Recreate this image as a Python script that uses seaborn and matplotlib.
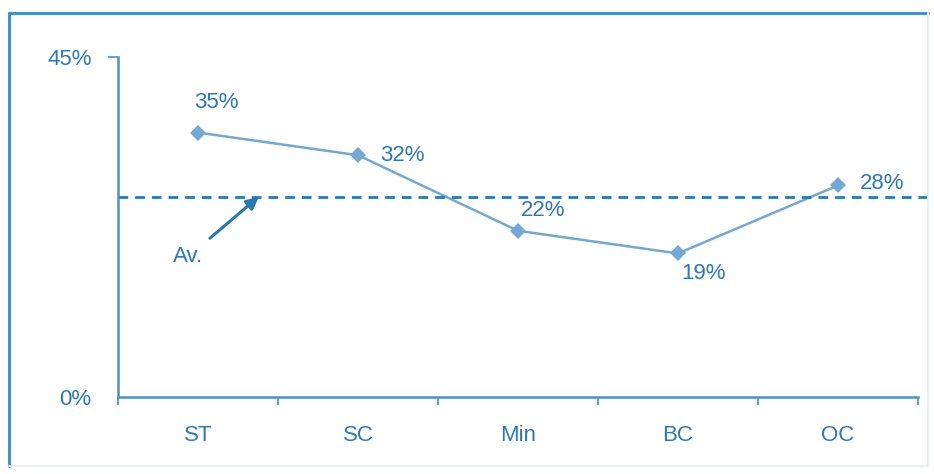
import matplotlib
matplotlib.use("Agg")
import matplotlib.pyplot as plt
import seaborn as sns
import pandas as pd
from matplotlib.lines import Line2D

categories = ["ST", "SC", "Min", "BC", "OC"]
values = [35, 32, 22, 19, 28]
average = 26.5
y_ticks = [0, 45]
y_tick_labels = ["0%", "45%"]

sns.set_style("white")
plt.rcParams['font.family'] = ['Liberation Sans', 'DejaVu Sans']

TXT = "#2f78b2"
AX = "#4a90c4"
LINE = "#74a8d0"
DASH = "#2a78b2"

df = pd.DataFrame({"pos": range(len(categories)), "val": values})

fig = plt.figure(figsize=(9.34, 4.74), dpi=100)
ax = fig.add_axes([118/934, 1-397/474, 800/934, 340/474])

sns.lineplot(data=df, x="pos", y="val", ax=ax, color=LINE, lw=1.8,
             marker="D", markersize=8, markeredgewidth=0, markerfacecolor=LINE)
ax.axhline(average, color=DASH, lw=2, ls=(0, (3.5, 2.5)), xmin=0, xmax=1.05, clip_on=False)

ax.set_xlim(-0.5, 4.5)
ax.set_ylim(0, 45)
ax.set_xlabel("")
ax.set_ylabel("")

ax.set_xticks([-0.5, 0.5, 1.5, 2.5, 3.5, 4.5])
ax.set_xticklabels([])
ax.set_xticks(range(len(categories)), minor=True)
ax.set_xticklabels(categories, minor=True)
ax.tick_params(axis="x", which="major", bottom=True, direction="out", length=6, width=1.2, color=AX)
ax.tick_params(axis="x", which="minor", bottom=True, length=0, pad=20, labelsize=16, labelcolor=TXT)
ax.set_yticks(y_ticks)
ax.set_yticklabels(y_tick_labels)
ax.tick_params(axis="y", left=True, direction="out", length=7, width=1.2, color=AX, pad=12,
               labelsize=16, labelcolor=TXT)
ax.yaxis.get_major_ticks()[0].tick1line.set_visible(False)

for s in ["top", "right"]:
    ax.spines[s].set_visible(False)
for s in ["left", "bottom"]:
    ax.spines[s].set_color(AX)
    ax.spines[s].set_linewidth(1.8)

offsets = [(18, 30, "center"), (22, 0, "left"), (25, 20, "center"), (25, -20, "center"), (22, 2, "left")]
for i, (v, (dx, dy, ha)) in enumerate(zip(values, offsets)):
    ax.annotate(f"{v}%", (i, v), xytext=(dx, dy), textcoords="offset pixels",
                ha=ha, va="center", fontsize=16, color=TXT)

ax.annotate("Av.", xy=(0.38, average), xytext=(-0.06, 18.6), textcoords="data",
            ha="center", va="center", fontsize=16, color=TXT,
            arrowprops=dict(arrowstyle="-|>", color=DASH, lw=2.2, mutation_scale=18,
                            shrinkA=5, shrinkB=0))

# frame around figure
fig.add_artist(Line2D([9/934, 9/934], [1-466/474, 1-13/474], color=AX, lw=2.2, transform=fig.transFigure))
fig.add_artist(Line2D([9/934, 928/934], [1-13/474, 1-13/474], color=AX, lw=2.2, transform=fig.transFigure))
fig.add_artist(Line2D([928/934, 928/934], [1-466/474, 1-13/474], color="#e8eef4", lw=1.5, transform=fig.transFigure))
fig.add_artist(Line2D([9/934, 928/934], [1-466/474, 1-466/474], color="#e8eef4", lw=1.5, transform=fig.transFigure))

fig.savefig("out.png", dpi=100)
